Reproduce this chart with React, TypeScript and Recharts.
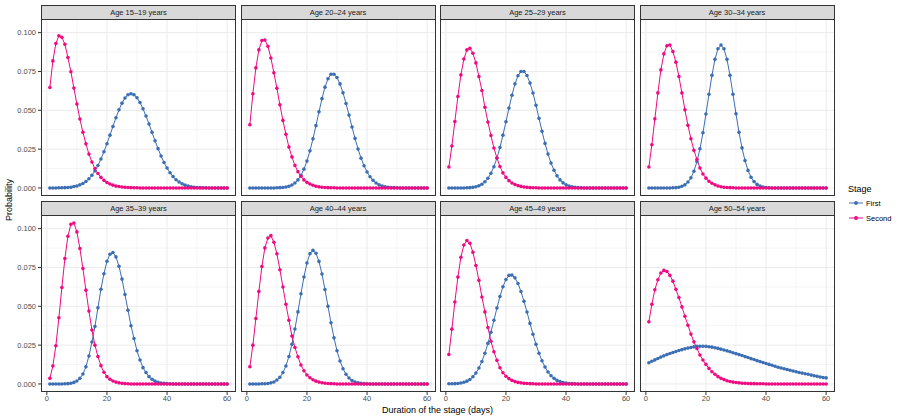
import React from 'react';
import { CartesianGrid, Line, LineChart, XAxis, YAxis } from 'recharts';

// duration of the stage, in days
const days = [
  1, 2, 3, 4, 5, 6, 7, 8, 9, 10,
  11, 12, 13, 14, 15, 16, 17, 18, 19, 20,
  21, 22, 23, 24, 25, 26, 27, 28, 29, 30,
  31, 32, 33, 34, 35, 36, 37, 38, 39, 40,
  41, 42, 43, 44, 45, 46, 47, 48, 49, 50,
  51, 52, 53, 54, 55, 56, 57, 58, 59, 60,
];

const first15 = [
  0, 0, 0, 0.0001, 0.0001, 0.0002, 0.0003, 0.0005, 0.0009, 0.0013,
  0.002, 0.0029, 0.0042, 0.0059, 0.0082, 0.011, 0.0145, 0.0186, 0.0233, 0.0285,
  0.034, 0.0396, 0.0452, 0.0503, 0.0546, 0.0579, 0.06, 0.0607, 0.06, 0.0581,
  0.055, 0.051, 0.0463, 0.0412, 0.0358, 0.0304, 0.0253, 0.0206, 0.0164, 0.0128,
  0.0098, 0.0073, 0.0053, 0.0038, 0.0027, 0.0018, 0.0012, 0.0008, 0.0005, 0.0003,
  0.0002, 0.0001, 0.0001, 0, 0, 0, 0, 0, 0, 0,
];
const second15 = [
  0.0647, 0.0818, 0.093, 0.098, 0.097, 0.0925, 0.084, 0.0748, 0.0643, 0.054,
  0.0444, 0.0359, 0.0284, 0.0218, 0.0167, 0.0125, 0.0093, 0.0068, 0.0049, 0.0035,
  0.0025, 0.0018, 0.0012, 0.0009, 0.0006, 0.0004, 0.0003, 0.0002, 0.0001, 0.0001,
  0, 0, 0, 0, 0, 0, 0, 0, 0, 0,
  0, 0, 0, 0, 0, 0, 0, 0, 0, 0,
  0, 0, 0, 0, 0, 0, 0, 0, 0, 0,
];

const first20 = [
  0, 0, 0, 0, 0, 0, 0, 0, 0, 0.0001,
  0.0002, 0.0003, 0.0006, 0.0011, 0.0019, 0.0032, 0.0052, 0.0081, 0.0121, 0.0173,
  0.0239, 0.0316, 0.0401, 0.049, 0.0575, 0.0649, 0.0703, 0.0732, 0.0732, 0.0711,
  0.067, 0.0613, 0.0544, 0.0469, 0.0392, 0.0319, 0.0251, 0.0192, 0.0143, 0.0103,
  0.0072, 0.0049, 0.0032, 0.0021, 0.0013, 0.0008, 0.0005, 0.0003, 0.0002, 0.0001,
  0, 0, 0, 0, 0, 0, 0, 0, 0, 0,
];
const second20 = [
  0.0407, 0.0606, 0.0773, 0.0889, 0.0949, 0.0953, 0.0912, 0.0837, 0.0741, 0.0642,
  0.0535, 0.0435, 0.0345, 0.0263, 0.02, 0.0145, 0.0105, 0.0075, 0.0052, 0.0036,
  0.0025, 0.0017, 0.0011, 0.0007, 0.0005, 0.0003, 0.0002, 0.0001, 0.0001, 0,
  0, 0, 0, 0, 0, 0, 0, 0, 0, 0,
  0, 0, 0, 0, 0, 0, 0, 0, 0, 0,
  0, 0, 0, 0, 0, 0, 0, 0, 0, 0,
];

const first25 = [
  0, 0, 0, 0, 0, 0, 0.0001, 0.0002, 0.0004, 0.0008,
  0.0014, 0.0024, 0.004, 0.0062, 0.0094, 0.0137, 0.0193, 0.026, 0.034, 0.0426,
  0.0514, 0.0597, 0.067, 0.0722, 0.075, 0.075, 0.0724, 0.0676, 0.0611, 0.0532,
  0.0448, 0.0365, 0.0287, 0.0218, 0.016, 0.0114, 0.0078, 0.0052, 0.0033, 0.002,
  0.0012, 0.0007, 0.0004, 0.0002, 0.0001, 0, 0, 0, 0, 0,
  0, 0, 0, 0, 0, 0, 0, 0, 0, 0,
];
const second25 = [
  0.0135, 0.027, 0.0428, 0.0589, 0.0728, 0.083, 0.0889, 0.0899, 0.0867, 0.0805,
  0.0717, 0.0627, 0.052, 0.0424, 0.0338, 0.0257, 0.0193, 0.0138, 0.0097, 0.0068,
  0.0047, 0.0032, 0.0022, 0.0015, 0.001, 0.0006, 0.0004, 0.0002, 0.0001, 0.0001,
  0, 0, 0, 0, 0, 0, 0, 0, 0, 0,
  0, 0, 0, 0, 0, 0, 0, 0, 0, 0,
  0, 0, 0, 0, 0, 0, 0, 0, 0, 0,
];

const first30 = [
  0, 0, 0, 0, 0, 0, 0, 0, 0.0001, 0.0002,
  0.0005, 0.0011, 0.002, 0.0038, 0.0065, 0.0108, 0.017, 0.0252, 0.0355, 0.0476,
  0.0603, 0.0725, 0.0828, 0.0896, 0.092, 0.0896, 0.0828, 0.0725, 0.0603, 0.0478,
  0.0358, 0.0258, 0.0176, 0.0113, 0.0069, 0.0041, 0.0023, 0.0012, 0.0006, 0.0003,
  0.0001, 0, 0, 0, 0, 0, 0, 0, 0, 0,
  0, 0, 0, 0, 0, 0, 0, 0, 0, 0,
];
const second30 = [
  0.0135, 0.0278, 0.0445, 0.0612, 0.076, 0.0863, 0.0916, 0.092, 0.0878, 0.081,
  0.0717, 0.0612, 0.0503, 0.0403, 0.0317, 0.0242, 0.0184, 0.0128, 0.009, 0.0063,
  0.0043, 0.003, 0.002, 0.0013, 0.0008, 0.0005, 0.0003, 0.0002, 0.0001, 0,
  0, 0, 0, 0, 0, 0, 0, 0, 0, 0,
  0, 0, 0, 0, 0, 0, 0, 0, 0, 0,
  0, 0, 0, 0, 0, 0, 0, 0, 0, 0,
];

const first35 = [
  0, 0, 0, 0, 0, 0.0001, 0.0002, 0.0005, 0.001, 0.0019,
  0.0036, 0.0064, 0.011, 0.018, 0.027, 0.037, 0.049, 0.061, 0.071, 0.079,
  0.0835, 0.0846, 0.0818, 0.0758, 0.0675, 0.0576, 0.0475, 0.0375, 0.0293, 0.0214,
  0.0154, 0.0105, 0.0073, 0.0047, 0.003, 0.0018, 0.0011, 0.0006, 0.0004, 0.0002,
  0.0001, 0, 0, 0, 0, 0, 0, 0, 0, 0,
  0, 0, 0, 0, 0, 0, 0, 0, 0, 0,
];
const second35 = [
  0.0036, 0.0116, 0.0246, 0.0426, 0.0621, 0.0807, 0.0951, 0.1028, 0.1036, 0.0979,
  0.0872, 0.0743, 0.0604, 0.0469, 0.0347, 0.025, 0.0176, 0.0118, 0.0075, 0.0047,
  0.003, 0.0019, 0.0012, 0.0007, 0.0004, 0.0002, 0.0001, 0, 0, 0,
  0, 0, 0, 0, 0, 0, 0, 0, 0, 0,
  0, 0, 0, 0, 0, 0, 0, 0, 0, 0,
  0, 0, 0, 0, 0, 0, 0, 0, 0, 0,
];

const first40 = [
  0, 0, 0, 0, 0.0001, 0.0001, 0.0003, 0.0007, 0.0013, 0.0025,
  0.0043, 0.0073, 0.0116, 0.0177, 0.0256, 0.0354, 0.0464, 0.058, 0.0689, 0.0779,
  0.0839, 0.086, 0.0842, 0.0789, 0.0708, 0.0608, 0.05, 0.0394, 0.0297, 0.0214,
  0.0148, 0.0098, 0.0062, 0.0038, 0.0022, 0.0012, 0.0007, 0.0004, 0.0002, 0.0001,
  0, 0, 0, 0, 0, 0, 0, 0, 0, 0,
  0, 0, 0, 0, 0, 0, 0, 0, 0, 0,
];
const second40 = [
  0.0111, 0.025, 0.0421, 0.0596, 0.0756, 0.0876, 0.094, 0.0955, 0.0912, 0.0838,
  0.0735, 0.0624, 0.0513, 0.041, 0.0308, 0.0235, 0.0175, 0.0122, 0.0085, 0.0058,
  0.004, 0.0027, 0.0018, 0.0012, 0.0008, 0.0005, 0.0003, 0.0002, 0.0001, 0,
  0, 0, 0, 0, 0, 0, 0, 0, 0, 0,
  0, 0, 0, 0, 0, 0, 0, 0, 0, 0,
  0, 0, 0, 0, 0, 0, 0, 0, 0, 0,
];

const first45 = [
  0.0001, 0.0001, 0.0002, 0.0003, 0.0006, 0.0011, 0.0018, 0.0029, 0.0046, 0.007,
  0.0103, 0.0145, 0.0198, 0.0261, 0.0333, 0.041, 0.0489, 0.0563, 0.0626, 0.0673,
  0.0699, 0.0701, 0.0683, 0.0647, 0.0595, 0.0532, 0.0463, 0.039, 0.032, 0.0255,
  0.0198, 0.0149, 0.0109, 0.0077, 0.0053, 0.0036, 0.0023, 0.0015, 0.0009, 0.0006,
  0.0003, 0.0002, 0.0001, 0, 0, 0, 0, 0, 0, 0,
  0, 0, 0, 0, 0, 0, 0, 0, 0, 0,
];
const second45 = [
  0.019, 0.0353, 0.0528, 0.0688, 0.0816, 0.0895, 0.0923, 0.0906, 0.0848, 0.0763,
  0.0667, 0.056, 0.0464, 0.0363, 0.0275, 0.0207, 0.0152, 0.0104, 0.0072, 0.005,
  0.0034, 0.0023, 0.0015, 0.001, 0.0007, 0.0004, 0.0003, 0.0002, 0.0001, 0,
  0, 0, 0, 0, 0, 0, 0, 0, 0, 0,
  0, 0, 0, 0, 0, 0, 0, 0, 0, 0,
  0, 0, 0, 0, 0, 0, 0, 0, 0, 0,
];

const first50 = [
  0.0137, 0.0146, 0.0155, 0.0164, 0.0173, 0.0181, 0.0189, 0.0196, 0.0203, 0.0209,
  0.0215, 0.0221, 0.0226, 0.0231, 0.0235, 0.0239, 0.0242, 0.0243, 0.0243, 0.0242,
  0.024, 0.0237, 0.0233, 0.0229, 0.0224, 0.0219, 0.0213, 0.0207, 0.0201, 0.0195,
  0.0189, 0.0183, 0.0176, 0.017, 0.0163, 0.0157, 0.015, 0.0144, 0.0138, 0.0132,
  0.0126, 0.012, 0.0114, 0.0108, 0.0103, 0.0098, 0.0093, 0.0088, 0.0083, 0.0079,
  0.0074, 0.007, 0.0066, 0.0062, 0.0057, 0.0053, 0.0049, 0.0045, 0.0042, 0.0039,
];
const second50 = [
  0.04, 0.0513, 0.0607, 0.0671, 0.0714, 0.0731, 0.0724, 0.0699, 0.0662, 0.0609,
  0.0556, 0.0496, 0.0436, 0.0378, 0.0321, 0.0271, 0.0229, 0.0186, 0.0154, 0.0126,
  0.01, 0.0079, 0.0062, 0.0047, 0.0036, 0.0028, 0.0021, 0.0016, 0.0012, 0.0009,
  0.0007, 0.0005, 0.0004, 0.0003, 0.0002, 0.0002, 0.0001, 0.0001, 0.0001, 0,
  0, 0, 0, 0, 0, 0, 0, 0, 0, 0,
  0, 0, 0, 0, 0, 0, 0, 0, 0, 0,
];

const panelTitles = [
  'Age 15–19 years', 'Age 20–24 years', 'Age 25–29 years', 'Age 30–34 years',
  'Age 35–39 years', 'Age 40–44 years', 'Age 45–49 years', 'Age 50–54 years',
];
const firstSeries = [first15, first20, first25, first30, first35, first40, first45, first50];
const secondSeries = [second15, second20, second25, second30, second35, second40, second45, second50];

const xTicks = [0, 20, 40, 60];
const xMinor = [10, 30, 50];
const yTicks = [0, 0.025, 0.05, 0.075, 0.1];
const yMinor = [0.0125, 0.0375, 0.0625, 0.0875];

const FONT = "'Liberation Sans', Arial, Helvetica, sans-serif";
const BLUE = '#3C6EB4';
const PINK = '#EF0A82';
const PLOT_W = 195;
const PLOT_H = 177;
const STRIP_H = 14;
const COL_X = [41, 240.5, 440, 639.5];
const ROW_Y = [18.5, 215];
const Y_AXIS_W = 41;
const X_AXIS_H = 16;
const X_DOMAIN = [-1.95, 62.95];
const Y_DOMAIN = [-0.00518, 0.10878];

const tickStyle = { fontSize: 7.5, fill: '#4D4D4D', fontFamily: FONT };

function Panel({ idx }: { idx: number }) {
  const r = Math.floor(idx / 4);
  const c = idx % 4;
  const showY = c === 0;
  const showX = r === 1;
  const rows = days.map((d, i) => ({ day: d, first: firstSeries[idx][i], second: secondSeries[idx][i] }));
  const left = showY ? COL_X[c] - Y_AXIS_W : COL_X[c];
  const top = ROW_Y[r];

  return (
    <>
      <div style={{
        position: 'absolute', left: COL_X[c], top: top - STRIP_H, width: PLOT_W, height: STRIP_H + 1,
        boxSizing: 'border-box', border: '1px solid #333333', background: '#D9D9D9',
        fontSize: 7.5, lineHeight: `${STRIP_H - 1}px`, textAlign: 'center', color: '#1A1A1A',
      }}>
        {panelTitles[idx]}
      </div>
      <div style={{ position: 'absolute', left, top }}>
        <LineChart
          width={PLOT_W + (showY ? Y_AXIS_W : 0)}
          height={PLOT_H + (showX ? X_AXIS_H : 0)}
          data={rows}
          margin={{ top: 0, right: 0, bottom: 0, left: 0 }}
        >
          <CartesianGrid stroke="#EBEBEB" strokeWidth={0.5} verticalValues={xMinor} horizontalValues={yMinor} />
          <CartesianGrid stroke="#EBEBEB" strokeWidth={1} verticalValues={xTicks} horizontalValues={yTicks} />
          <XAxis
            dataKey="day" type="number" domain={X_DOMAIN} ticks={xTicks} allowDataOverflow
            hide={!showX} height={X_AXIS_H} axisLine={false} tickSize={3} tickMargin={1}
            tickLine={{ stroke: '#333333' }} tick={tickStyle} interval={0}
          />
          <YAxis
            type="number" domain={Y_DOMAIN} ticks={yTicks} allowDataOverflow
            hide={!showY} width={Y_AXIS_W} axisLine={false} tickSize={3} tickMargin={2}
            tickLine={{ stroke: '#333333' }} tick={tickStyle} interval={0}
            tickFormatter={(v: number) => v.toFixed(3)}
          />
          <Line type="linear" dataKey="first" stroke={BLUE} strokeWidth={1}
            dot={{ r: 1.8, fill: BLUE, stroke: 'none' }} activeDot={false} isAnimationActive={false} />
          <Line type="linear" dataKey="second" stroke={PINK} strokeWidth={1}
            dot={{ r: 1.8, fill: PINK, stroke: 'none' }} activeDot={false} isAnimationActive={false} />
        </LineChart>
      </div>
      <div style={{
        position: 'absolute', left: COL_X[c], top, width: PLOT_W, height: PLOT_H,
        boxSizing: 'border-box', border: '1px solid #333333', pointerEvents: 'none',
      }} />
    </>
  );
}

function LegendKey({ color, label, top }: { color: string; label: string; top: number }) {
  return (
    <div style={{ position: 'absolute', left: 848, top, height: 14, display: 'flex', alignItems: 'center' }}>
      <svg width={16} height={14}>
        <line x1={1} y1={7} x2={15} y2={7} stroke={color} strokeWidth={1} />
        <circle cx={8} cy={7} r={1.9} fill={color} />
      </svg>
      <span style={{ marginLeft: 2, fontSize: 7.5, color: '#000' }}>{label}</span>
    </div>
  );
}

export default function App() {
  return (
    <div style={{
      position: 'absolute', left: 0, top: 0, width: 900, height: 420,
      background: '#FFFFFF', fontFamily: FONT, overflow: 'hidden',
    }}>
      {panelTitles.map((_, i) => <Panel key={i} idx={i} />)}

      <div style={{
        position: 'absolute', left: 9, top: 200, fontSize: 9, whiteSpace: 'nowrap',
        transform: 'translate(-50%, -50%) rotate(-90deg)',
      }}>
        Probability
      </div>
      <div style={{
        position: 'absolute', left: 437.5, top: 410, fontSize: 9, whiteSpace: 'nowrap',
        transform: 'translate(-50%, -50%)',
      }}>
        Duration of the stage (days)
      </div>

      <div style={{ position: 'absolute', left: 848, top: 184, fontSize: 9 }}>Stage</div>
      <LegendKey color={BLUE} label="First" top={196} />
      <LegendKey color={PINK} label="Second" top={211} />
    </div>
  );
}
